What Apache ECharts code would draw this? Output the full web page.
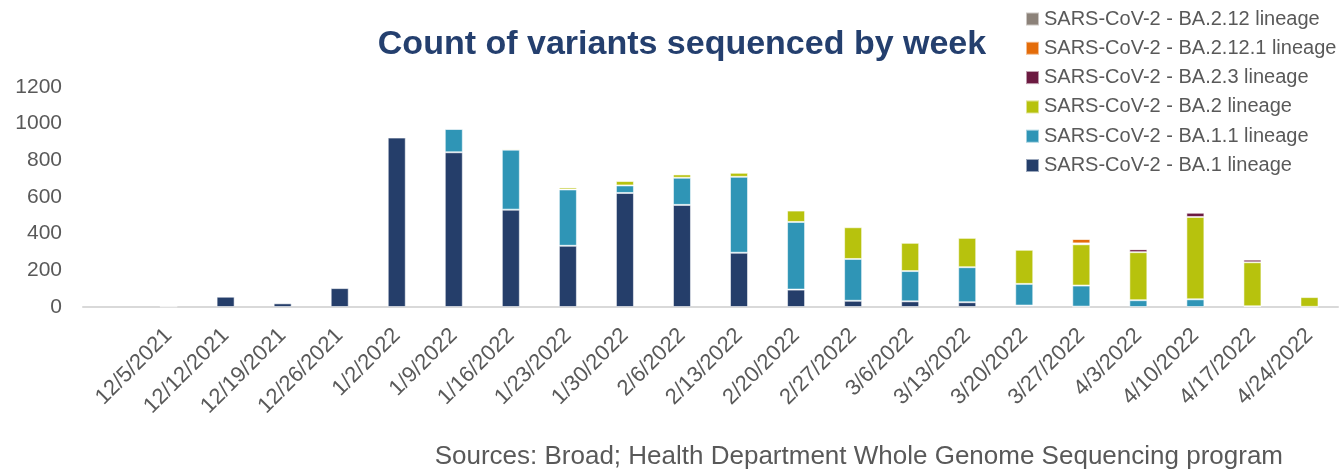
<!DOCTYPE html>
<html>
<head>
<meta charset="utf-8">
<script src="https://cdn.jsdelivr.net/npm/echarts@6/dist/echarts.min.js"></script>
<style>
html,body{margin:0;padding:0;background:#fff;}
#chart{width:1340px;height:474px;}
</style>
</head>
<body>
<div id="chart"></div>
<script>
var categories = ['', '12/5/2021', '12/12/2021', '12/19/2021', '12/26/2021', '1/2/2022', '1/9/2022', '1/16/2022', '1/23/2022', '1/30/2022', '2/6/2022', '2/13/2022', '2/20/2022', '2/27/2022', '3/6/2022', '3/13/2022', '3/20/2022', '3/27/2022', '4/3/2022', '4/10/2022', '4/17/2022', '4/24/2022'];
var ba1    = [0, 3, 56, 20, 103, 924, 844, 531, 334, 622, 557, 296, 95, 34, 31, 26, 8, 2, 0, 0, 0, 0];
var ba11   = [0, 0, 0, 0, 0, 0, 127, 327, 307, 41, 148, 414, 369, 228, 165, 191, 118, 115, 37, 42, 4, 1];
var ba2    = [0, 0, 0, 0, 0, 0, 3, 6, 11, 24, 18, 22, 62, 173, 154, 160, 186, 225, 262, 449, 240, 53];
var ba23   = [0, 0, 0, 0, 0, 0, 0, 0, 0, 0, 0, 0, 0, 0, 0, 0, 0, 5, 16, 23, 14, 0];
var ba2121 = [0, 0, 0, 0, 0, 0, 0, 0, 0, 0, 0, 0, 0, 0, 0, 0, 0, 24, 2, 0, 0, 0];
var ba212  = [0, 0, 0, 0, 0, 0, 0, 0, 0, 0, 0, 0, 0, 0, 0, 0, 0, 2, 0, 0, 0, 0];
var yTicks = [0, 200, 400, 600, 800, 1000, 1200];

var names = ['SARS-CoV-2 - BA.1 lineage', 'SARS-CoV-2 - BA.1.1 lineage', 'SARS-CoV-2 - BA.2 lineage', 'SARS-CoV-2 - BA.2.3 lineage', 'SARS-CoV-2 - BA.2.12.1 lineage', 'SARS-CoV-2 - BA.2.12 lineage'];
var colors = ['#253E6A', '#2F95B6', '#B7C20D', '#6C1A41', '#E46C0A', '#8C8279'];
var datas = [ba1, ba11, ba2, ba23, ba2121, ba212];

var series = names.map(function (n, i) {
  return {
    name: n,
    type: 'bar',
    stack: 'total',
    barWidth: 18,
    data: datas[i].map(function (v) { return v === 0 ? null : v; }),
    itemStyle: { color: colors[i], borderColor: 'rgba(255,255,255,0.55)', borderWidth: 1 },
    emphasis: { disabled: true }
  };
});

var FONT = '"Liberation Sans", Arial, sans-serif';
var chart = echarts.init(document.getElementById('chart'), null, { renderer: 'canvas' });
chart.setOption({
  animation: false,
  backgroundColor: '#ffffff',
  color: colors,
  title: [
    {
      text: 'Count of variants sequenced by week',
      left: 677, top: 23, textAlign: 'center',
      textStyle: { fontFamily: FONT, fontWeight: 'bold', fontSize: 34, color: '#243F6E' }
    },
    {
      text: 'Sources: Broad; Health Department Whole Genome Sequencing program',
      right: 52, top: 439,
      textStyle: { fontFamily: FONT, fontWeight: 'normal', fontSize: 26, color: '#595959' }
    }
  ],
  legend: {
    orient: 'vertical',
    left: 1020, top: 3,
    itemWidth: 13, itemHeight: 13, itemGap: 7.3,
    icon: 'rect',
    data: names.slice().reverse(),
    textStyle: { fontFamily: FONT, fontSize: 20, lineHeight: 22, color: '#595959' },
    selectedMode: false
  },
  grid: { left: 83, right: 2, top: 87, bottom: 167, containLabel: false },
  xAxis: {
    type: 'category',
    data: categories,
    boundaryGap: true,
    axisLine: { show: true, lineStyle: { color: '#D9D9D9', width: 2 } },
    axisTick: { show: false },
    axisLabel: { interval: 0, rotate: 45, margin: 25, fontFamily: FONT, fontSize: 22, color: '#595959' }
  },
  yAxis: {
    type: 'value',
    min: yTicks[0], max: yTicks[yTicks.length - 1], interval: 200,
    axisLine: { show: false },
    axisTick: { show: false },
    splitLine: { show: false },
    axisLabel: { margin: 21, fontFamily: FONT, fontSize: 21, color: '#595959', formatter: function (v) { return String(v); } }
  },
  series: series
});
</script>
</body>
</html>
